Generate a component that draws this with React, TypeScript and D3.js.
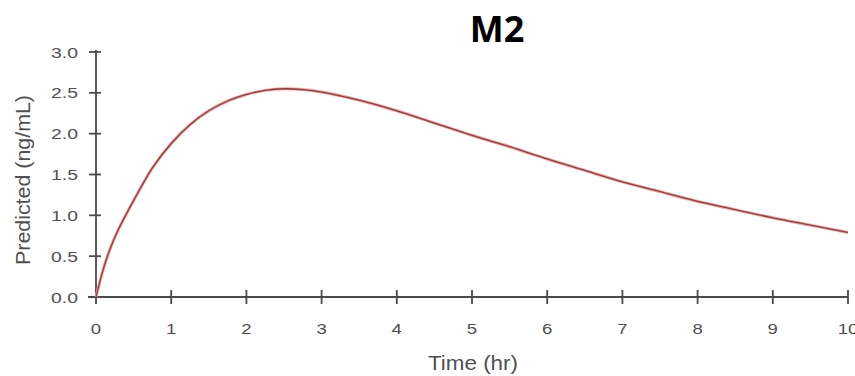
import React from "react";
import * as d3 from "d3";

const times = [0, 0.1, 0.2, 0.3, 0.4, 0.5, 0.75, 1.0, 1.25, 1.5, 1.75, 2.0, 2.25, 2.5, 2.75, 3.0, 3.5, 4.0, 4.5, 5.0, 5.5, 6.0, 6.5, 7.0, 7.5, 8.0, 8.5, 9.0, 9.5, 10];
const predicted = [0, 0.35, 0.62, 0.83, 1.01, 1.18, 1.58, 1.88, 2.11, 2.28, 2.4, 2.48, 2.53, 2.55, 2.54, 2.51, 2.41, 2.28, 2.13, 1.98, 1.84, 1.69, 1.55, 1.41, 1.29, 1.17, 1.07, 0.97, 0.88, 0.79];
const xTicks = [0, 1, 2, 3, 4, 5, 6, 7, 8, 9, 10];
const yTicks = [0, 0.5, 1.0, 1.5, 2.0, 2.5, 3.0];
const title = "M2";
const xTitle = "Time (hr)";
const yTitle = "Predicted (ng/mL)";

export default function App() {
  const W = 855, H = 376;
  const x = d3.scaleLinear().domain([0, 10]).range([96, 848]);
  const y = d3.scaleLinear().domain([0, 3]).range([297, 52]);
  const pts = times.map((t, i) => [t, predicted[i]] as [number, number]);
  const line = d3.line<[number, number]>().x(d => x(d[0])).y(d => y(d[1])).curve(d3.curveCatmullRom.alpha(0.5));
  const path = line(pts) || "";
  const axisColor = "#4a4a4a";
  const textColor = "#505050";
  const font = "Liberation Sans, Arial, sans-serif";
  return (
    <svg width={W} height={H} style={{ position: "absolute", left: 0, top: 0, background: "#fff" }}>
      <text x={497} y={42} textAnchor="middle" fontFamily="Open Sans, sans-serif" fontWeight="bold" fontSize={36} fill="#000">{title}</text>
      {/* axes */}
      <line x1={x(0)} x2={x(0)} y1={y(3) - 2} y2={y(0)} stroke={axisColor} strokeWidth={1.8} />
      <line x1={x(0) - 8} x2={x(10)} y1={y(0)} y2={y(0)} stroke={axisColor} strokeWidth={1.8} />
      {yTicks.map(v => (
        <g key={"y" + v}>
          <line x1={x(0) - 7} x2={x(0) + 5} y1={y(v)} y2={y(v)} stroke={axisColor} strokeWidth={1.8} />
          <text x={78} y={y(v)} dy="0.36em" textAnchor="end" fontFamily={font} fontSize={15.5} fill={textColor}
            transform={`translate(78,0) scale(1.25,1) translate(-78,0)`}>{v.toFixed(1)}</text>
        </g>
      ))}
      {xTicks.map(v => (
        <g key={"x" + v}>
          <line x1={x(v)} x2={x(v)} y1={y(0) - 7} y2={y(0) + 7} stroke={axisColor} strokeWidth={1.8} />
          <text x={x(v)} y={328} dy="0.36em" textAnchor="middle" fontFamily={font} fontSize={15.5} fill={textColor}
            transform={`translate(${x(v)},0) scale(1.2,1) translate(${-x(v)},0)`}>{v}</text>
        </g>
      ))}
      <text x={473} y={370} textAnchor="middle" fontFamily={font} fontSize={21} fill={textColor}
        textLength={90} lengthAdjust="spacingAndGlyphs">{xTitle}</text>
      <text transform={`translate(30,180) rotate(-90)`} textAnchor="middle" fontFamily={font} fontSize={20} fill={textColor}
        textLength={170} lengthAdjust="spacingAndGlyphs">{yTitle}</text>
      <path d={path} fill="none" stroke="#eaa0a0" strokeWidth={3} />
      <path d={path} fill="none" stroke="#9c3838" strokeWidth={1.3} />
    </svg>
  );
}
